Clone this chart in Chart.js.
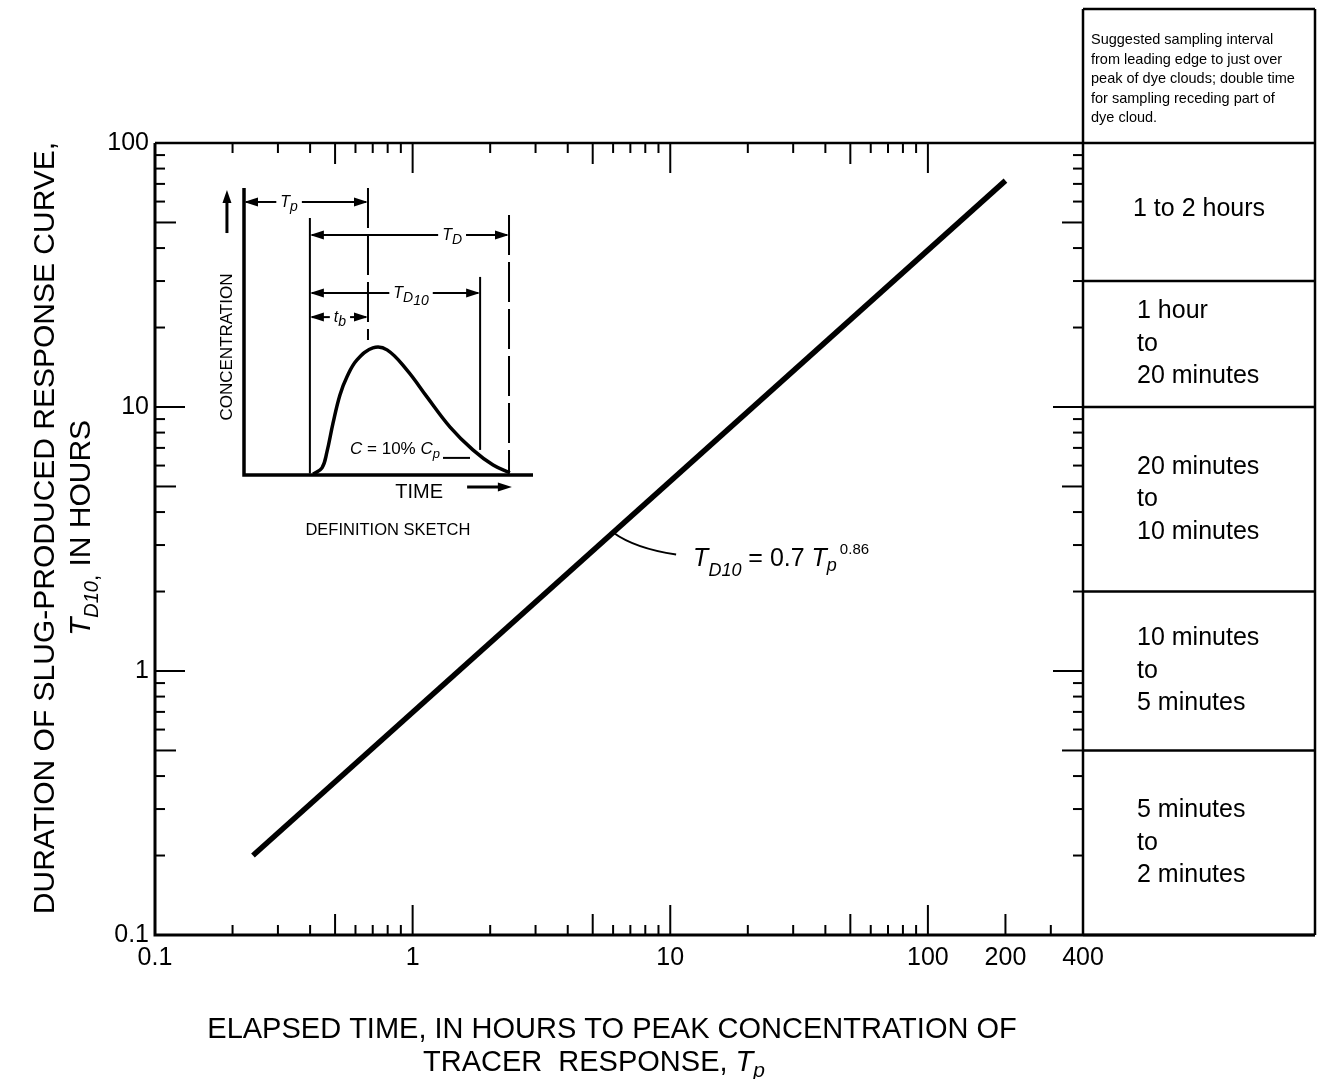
<!DOCTYPE html>
<html><head><meta charset="utf-8">
<script src="https://cdn.jsdelivr.net/npm/chart.js@4.4.1/dist/chart.umd.min.js"></script>
<style>
html,body{margin:0;padding:0;background:#fff;}
#wrap{position:relative;width:1325px;height:1079px;overflow:hidden;}
#main{position:absolute;left:0;top:0;}
#inset{position:absolute;left:190px;top:170px;}
</style></head><body>
<div id="wrap">
<canvas id="main" width="1325" height="1079"></canvas>
<canvas id="inset" width="370" height="380"></canvas>
</div>
<script>
// ---------------- data ----------------
const tpValues   = [0.24, 200];          // elapsed time to peak, hours
const td10Values = [0.2, 72];            // duration T_D10, hours
const xTickValues = [0.1, 1, 10, 100, 200, 400];
const xTickLabels = ['0.1', '1', '10', '100', '200', '400'];
const yTickValues = [0.1, 1, 10, 100];
const yTickLabels = ['0.1', '1', '10', '100'];
const intervalBounds = [100, 30, 10, 2, 0.5, 0.1];
const intervalLabels = [
  ['1 to 2 hours'],
  ['1 hour', 'to', '20 minutes'],
  ['20 minutes', 'to', '10 minutes'],
  ['10 minutes', 'to', '5 minutes'],
  ['5 minutes', 'to', '2 minutes']
];
const headerLines = [
  'Suggested sampling interval',
  'from leading edge to just over',
  'peak of dye clouds; double time',
  'for sampling receding part of',
  'dye cloud.'
];
const leaderTp = 6;   // Tp where the equation leader touches the line
// inset definition sketch (arbitrary 0-100 units)
const sketchTime = [23.9, 27.0, 28.7, 30.8, 33.2, 35.6, 39.1, 44.6, 49.5, 56.4, 63.3, 71.3, 79.2, 86.2, 92.0];
const sketchConc = [0.3, 2.5, 8.1, 18.2, 28.1, 34.4, 40.4, 44.6, 43.9, 36.8, 27.4, 16.8, 8.8, 3.5, 0.8];
const sketchMarks = { tp: 42.9, lead: 22.8, td: 91.7, td10: 81.7 };

// ---------------- helpers ----------------
const FAM = '"Liberation Sans", Arial, Helvetica, sans-serif';
const f = (size, italic) => (italic ? 'italic ' : '') + size + 'px ' + FAM;
function richWidth(ctx, segs) {
  let w = 0;
  segs.forEach(s => { ctx.font = s.font; w += ctx.measureText(s.text).width + (s.gap || 0); });
  return w;
}
function drawRich(ctx, segs, x, y, align) {
  const w = richWidth(ctx, segs);
  let cx = align === 'center' ? x - w / 2 : (align === 'right' ? x - w : x);
  ctx.textAlign = 'left'; ctx.textBaseline = 'alphabetic';
  segs.forEach(s => {
    ctx.font = s.font;
    ctx.fillText(s.text, cx, y + (s.dy || 0));
    cx += ctx.measureText(s.text).width + (s.gap || 0);
  });
  return w;
}
function line(ctx, x1, y1, x2, y2) { ctx.beginPath(); ctx.moveTo(x1, y1); ctx.lineTo(x2, y2); ctx.stroke(); }
function arrowHead(ctx, x, y, dx, dy, L, W) {
  const n = Math.hypot(dx, dy); dx /= n; dy /= n;
  ctx.beginPath();
  ctx.moveTo(x, y);
  ctx.lineTo(x - dx * L - dy * W, y - dy * L + dx * W);
  ctx.lineTo(x - dx * L + dy * W, y - dy * L - dx * W);
  ctx.closePath(); ctx.fill();
}
function tickLen(v) {
  const e = Math.floor(Math.log10(v) + 1e-9);
  const m = Math.round(v / Math.pow(10, e));
  if (m === 1) return 30;
  if (m === 5) return 21;
  return 10;
}

// ---------------- main chart frame / annotations ----------------
const framePlugin = {
  id: 'frame',
  afterDatasetsDraw(chart) {
    const { ctx, chartArea: a, scales: { x, y } } = chart;
    ctx.save();
    ctx.strokeStyle = '#000'; ctx.fillStyle = '#000'; ctx.lineCap = 'butt';

    // plot box
    ctx.lineWidth = 3;
    ctx.beginPath(); ctx.moveTo(a.left, a.top); ctx.lineTo(a.left, a.bottom); ctx.lineTo(1315, a.bottom); ctx.stroke();
    ctx.lineWidth = 2.5;
    line(ctx, a.left, a.top, a.right, a.top);

    // inward ticks
    ctx.lineWidth = 2;
    const decades = [0.1, 1, 10, 100];
    decades.forEach(d => {
      for (let m = 1; m <= 9; m++) {
        const v = +(m * d).toPrecision(3);
        if (v > 0.1 && v < 400) {
          const px = x.getPixelForValue(v);
          let Lb = tickLen(v); if (v === 200) Lb = 21;
          line(ctx, px, a.bottom, px, a.bottom - Lb);
          if (v <= 100) line(ctx, px, a.top, px, a.top + tickLen(v));
        }
        if (v > 0.1 && v < 100) {
          const py = y.getPixelForValue(v);
          line(ctx, a.left, py, a.left + tickLen(v), py);
          line(ctx, a.right, py, a.right - tickLen(v), py);
        }
      }
    });

    // sampling-interval table
    const tl = a.right, tr = 1315, headTop = 9;
    ctx.lineWidth = 2.5;
    line(ctx, tl, headTop, tl, a.bottom);
    line(ctx, tr, headTop, tr, a.bottom);
    line(ctx, tl, headTop, tr, headTop);
    intervalBounds.forEach(b => { const py = y.getPixelForValue(b); line(ctx, tl, py, tr, py); });

    ctx.font = f(14.5); ctx.textAlign = 'left'; ctx.textBaseline = 'middle';
    headerLines.forEach((t, i) => ctx.fillText(t, tl + 8, headTop + 31 + i * 19.5));

    ctx.font = f(25); ctx.textBaseline = 'middle';
    intervalLabels.forEach((lines, i) => {
      const y0 = y.getPixelForValue(intervalBounds[i]);
      const y1 = y.getPixelForValue(intervalBounds[i + 1]);
      const mid = (y0 + y1) / 2;
      const sp = 32.5;
      lines.forEach((t, k) => {
        const yy = mid + (k - (lines.length - 1) / 2) * sp;
        if (lines.length === 1) { ctx.textAlign = 'center'; ctx.fillText(t, (tl + tr) / 2, yy - 3); }
        else { ctx.textAlign = 'left'; ctx.fillText(t, tl + 54, yy); }
      });
    });

    // equation leader and label
    const lx = Math.log10(leaderTp);
    const x0 = Math.log10(tpValues[0]), x1 = Math.log10(tpValues[1]);
    const y0 = Math.log10(td10Values[0]), y1 = Math.log10(td10Values[1]);
    const ly = Math.pow(10, y0 + (y1 - y0) * (lx - x0) / (x1 - x0));
    const P = { x: x.getPixelForValue(leaderTp), y: y.getPixelForValue(ly) };
    ctx.lineWidth = 2;
    ctx.beginPath(); ctx.moveTo(P.x, P.y); ctx.quadraticCurveTo(P.x + 22, P.y + 16, P.x + 63, P.y + 22); ctx.stroke();
    drawRich(ctx, [
      { text: 'T', font: f(25, true) },
      { text: 'D', font: f(18, true), dy: 10 },
      { text: '10', font: f(18, true), dy: 10 },
      { text: ' = 0.7 ', font: f(25) },
      { text: 'T', font: f(25, true) },
      { text: 'p', font: f(18, true), dy: 5, gap: 3 },
      { text: '0.86', font: f(15), dy: -12 }
    ], P.x + 80, P.y + 33, 'left');

    // axis titles
    ctx.fillStyle = '#000';
    ctx.save();
    ctx.translate(43, 528); ctx.rotate(-Math.PI / 2);
    ctx.font = f(30); ctx.textAlign = 'center'; ctx.textBaseline = 'alphabetic';
    ctx.fillText('DURATION OF SLUG-PRODUCED RESPONSE CURVE,', 0, 11);
    ctx.restore();
    ctx.save();
    ctx.translate(79, 528); ctx.rotate(-Math.PI / 2);
    drawRich(ctx, [
      { text: 'T', font: f(30, true) },
      { text: 'D', font: f(20, true), dy: 8 },
      { text: '10', font: f(20, true), dy: 8 },
      { text: ',', font: f(22), dy: 8 },
      { text: ' IN HOURS', font: f(30) }
    ], 0, 11, 'center');
    ctx.restore();

    ctx.font = f(29); ctx.textAlign = 'center'; ctx.textBaseline = 'alphabetic';
    ctx.fillText('ELAPSED TIME, IN HOURS TO PEAK CONCENTRATION OF', 612, 1038);
    drawRich(ctx, [
      { text: 'TRACER  RESPONSE, ', font: f(29) },
      { text: 'T', font: f(29, true) },
      { text: 'p', font: f(21, true), dy: 6 }
    ], 594, 1071, 'center');

    ctx.restore();
  }
};

new Chart(document.getElementById('main'), {
  type: 'scatter',
  data: {
    datasets: [{
      data: tpValues.map((v, i) => ({ x: v, y: td10Values[i] })),
      showLine: true, borderColor: '#000', borderWidth: 5.5, pointRadius: 0, borderCapStyle: 'butt'
    }]
  },
  options: {
    responsive: false, animation: false, devicePixelRatio: 1,
    layout: { padding: { left: 95, top: 143, right: 242, bottom: 84 } },
    plugins: { legend: { display: false }, tooltip: { enabled: false } },
    scales: {
      x: {
        type: 'logarithmic', min: 0.1, max: 400,
        grid: { display: false, drawTicks: false }, border: { display: false },
        afterBuildTicks: s => { s.ticks = xTickValues.map(v => ({ value: v })); },
        afterFit: s => { s.height = 60; },
        ticks: { autoSkip: false, maxRotation: 0, minRotation: 0, padding: 8, color: '#000',
          font: { family: FAM, size: 25 }, callback: (v, i) => xTickLabels[i] }
      },
      y: {
        type: 'logarithmic', min: 0.1, max: 100,
        grid: { display: false, drawTicks: false }, border: { display: false },
        afterBuildTicks: s => { s.ticks = yTickValues.map(v => ({ value: v })); },
        afterFit: s => { s.width = 60; },
        ticks: { autoSkip: false, padding: 6, color: '#000',
          font: { family: FAM, size: 25 }, callback: (v, i) => yTickLabels[i] }
      }
    }
  },
  plugins: [framePlugin]
});

// ---------------- inset definition sketch ----------------
const sketchPlugin = {
  id: 'sketch',
  afterDraw(chart) {
    const { ctx, scales: { x, y } } = chart;
    const X = v => x.getPixelForValue(v), Y = v => y.getPixelForValue(v);
    ctx.save();
    ctx.strokeStyle = '#000'; ctx.fillStyle = '#000'; ctx.lineCap = 'butt';
    // axes
    ctx.lineWidth = 3.5;
    ctx.beginPath(); ctx.moveTo(X(0), Y(100.7)); ctx.lineTo(X(0), Y(0)); ctx.lineTo(X(100), Y(0)); ctx.stroke();
    // up arrow
    ctx.lineWidth = 3;
    line(ctx, X(-5.9), Y(84.9), X(-5.9), Y(96));
    arrowHead(ctx, X(-5.9), Y(100), 0, -1, 13, 4.5);

    // vertical marker lines
    ctx.lineWidth = 2;
    line(ctx, X(sketchMarks.lead), Y(90.2), X(sketchMarks.lead), Y(0.5));
    line(ctx, X(sketchMarks.td10), Y(69.5), X(sketchMarks.td10), Y(8.8));
    ctx.setLineDash([40, 7]);
    line(ctx, X(sketchMarks.tp), Y(100.7), X(sketchMarks.tp), Y(47.4));
    line(ctx, X(sketchMarks.td), Y(91.2), X(sketchMarks.td), Y(0.5));
    ctx.setLineDash([]);

    // dimension arrows with labels
    function dim(xa, xb, yv, cx, segs) {
      const py = Y(yv), pa = X(xa), pb = X(xb), pc = X(cx);
      const w = richWidth(ctx, segs);
      ctx.lineWidth = 2;
      line(ctx, pa + 2, py, pc - w / 2 - 4, py);
      line(ctx, pc + w / 2 + 4, py, pb - 2, py);
      arrowHead(ctx, pa, py, -1, 0, 14, 4.5);
      arrowHead(ctx, pb, py, 1, 0, 14, 4.5);
      drawRich(ctx, segs, pc, py + 5, 'center');
    }
    dim(0, sketchMarks.tp, 95.8, 15.6, [{ text: 'T', font: f(16, true) }, { text: 'p', font: f(14, true), dy: 4 }]);
    dim(sketchMarks.lead, sketchMarks.td, 84.2, 72, [{ text: 'T', font: f(16, true) }, { text: 'D', font: f(14, true), dy: 4 }]);
    dim(sketchMarks.lead, sketchMarks.td10, 63.9, 57.8, [{ text: 'T', font: f(16, true) }, { text: 'D', font: f(14, true), dy: 4 }, { text: '10', font: f(14, true), dy: 7 }]);
    dim(sketchMarks.lead, sketchMarks.tp, 55.4, 33.2, [{ text: 't', font: f(16, true) }, { text: 'b', font: f(14, true), dy: 4 }]);

    // texts
    ctx.save();
    ctx.translate(X(-5.9), Y(44.9)); ctx.rotate(-Math.PI / 2);
    ctx.font = f(17); ctx.textAlign = 'center'; ctx.textBaseline = 'middle';
    ctx.fillText('CONCENTRATION', 0, 0);
    ctx.restore();

    const cw = drawRich(ctx, [
      { text: 'C', font: f(17, true) },
      { text: ' = 10% ', font: f(17) },
      { text: 'C', font: f(17, true) },
      { text: 'p', font: f(13, true), dy: 4 }
    ], X(36.7), Y(9.5) + 6, 'left');
    ctx.lineWidth = 2;
    line(ctx, X(36.7) + cw + 3, Y(6), X(78.2), Y(6));

    ctx.font = f(20); ctx.textAlign = 'center'; ctx.textBaseline = 'middle';
    ctx.fillText('TIME', X(60.6), Y(-6.3));
    ctx.lineWidth = 3;
    line(ctx, X(77.2), Y(-4.2), X(89), Y(-4.2));
    arrowHead(ctx, X(92.7), Y(-4.2), 1, 0, 14, 4.5);

    ctx.font = f(16.5);
    ctx.fillText('DEFINITION SKETCH', X(49.8), Y(-19.3));
    ctx.restore();
  }
};

new Chart(document.getElementById('inset'), {
  type: 'scatter',
  data: {
    datasets: [{
      data: sketchTime.map((v, i) => ({ x: v, y: sketchConc[i] })),
      showLine: true, borderColor: '#000', borderWidth: 3.5, pointRadius: 0,
      tension: 0.4
    }]
  },
  options: {
    responsive: false, animation: false, devicePixelRatio: 1,
    layout: { padding: { left: 54, right: 27, top: 20, bottom: 75 } },
    plugins: { legend: { display: false }, tooltip: { enabled: false } },
    scales: {
      x: { type: 'linear', min: 0, max: 100, display: false },
      y: { type: 'linear', min: 0, max: 100, display: false }
    }
  },
  plugins: [sketchPlugin]
});
</script>
</body></html>
